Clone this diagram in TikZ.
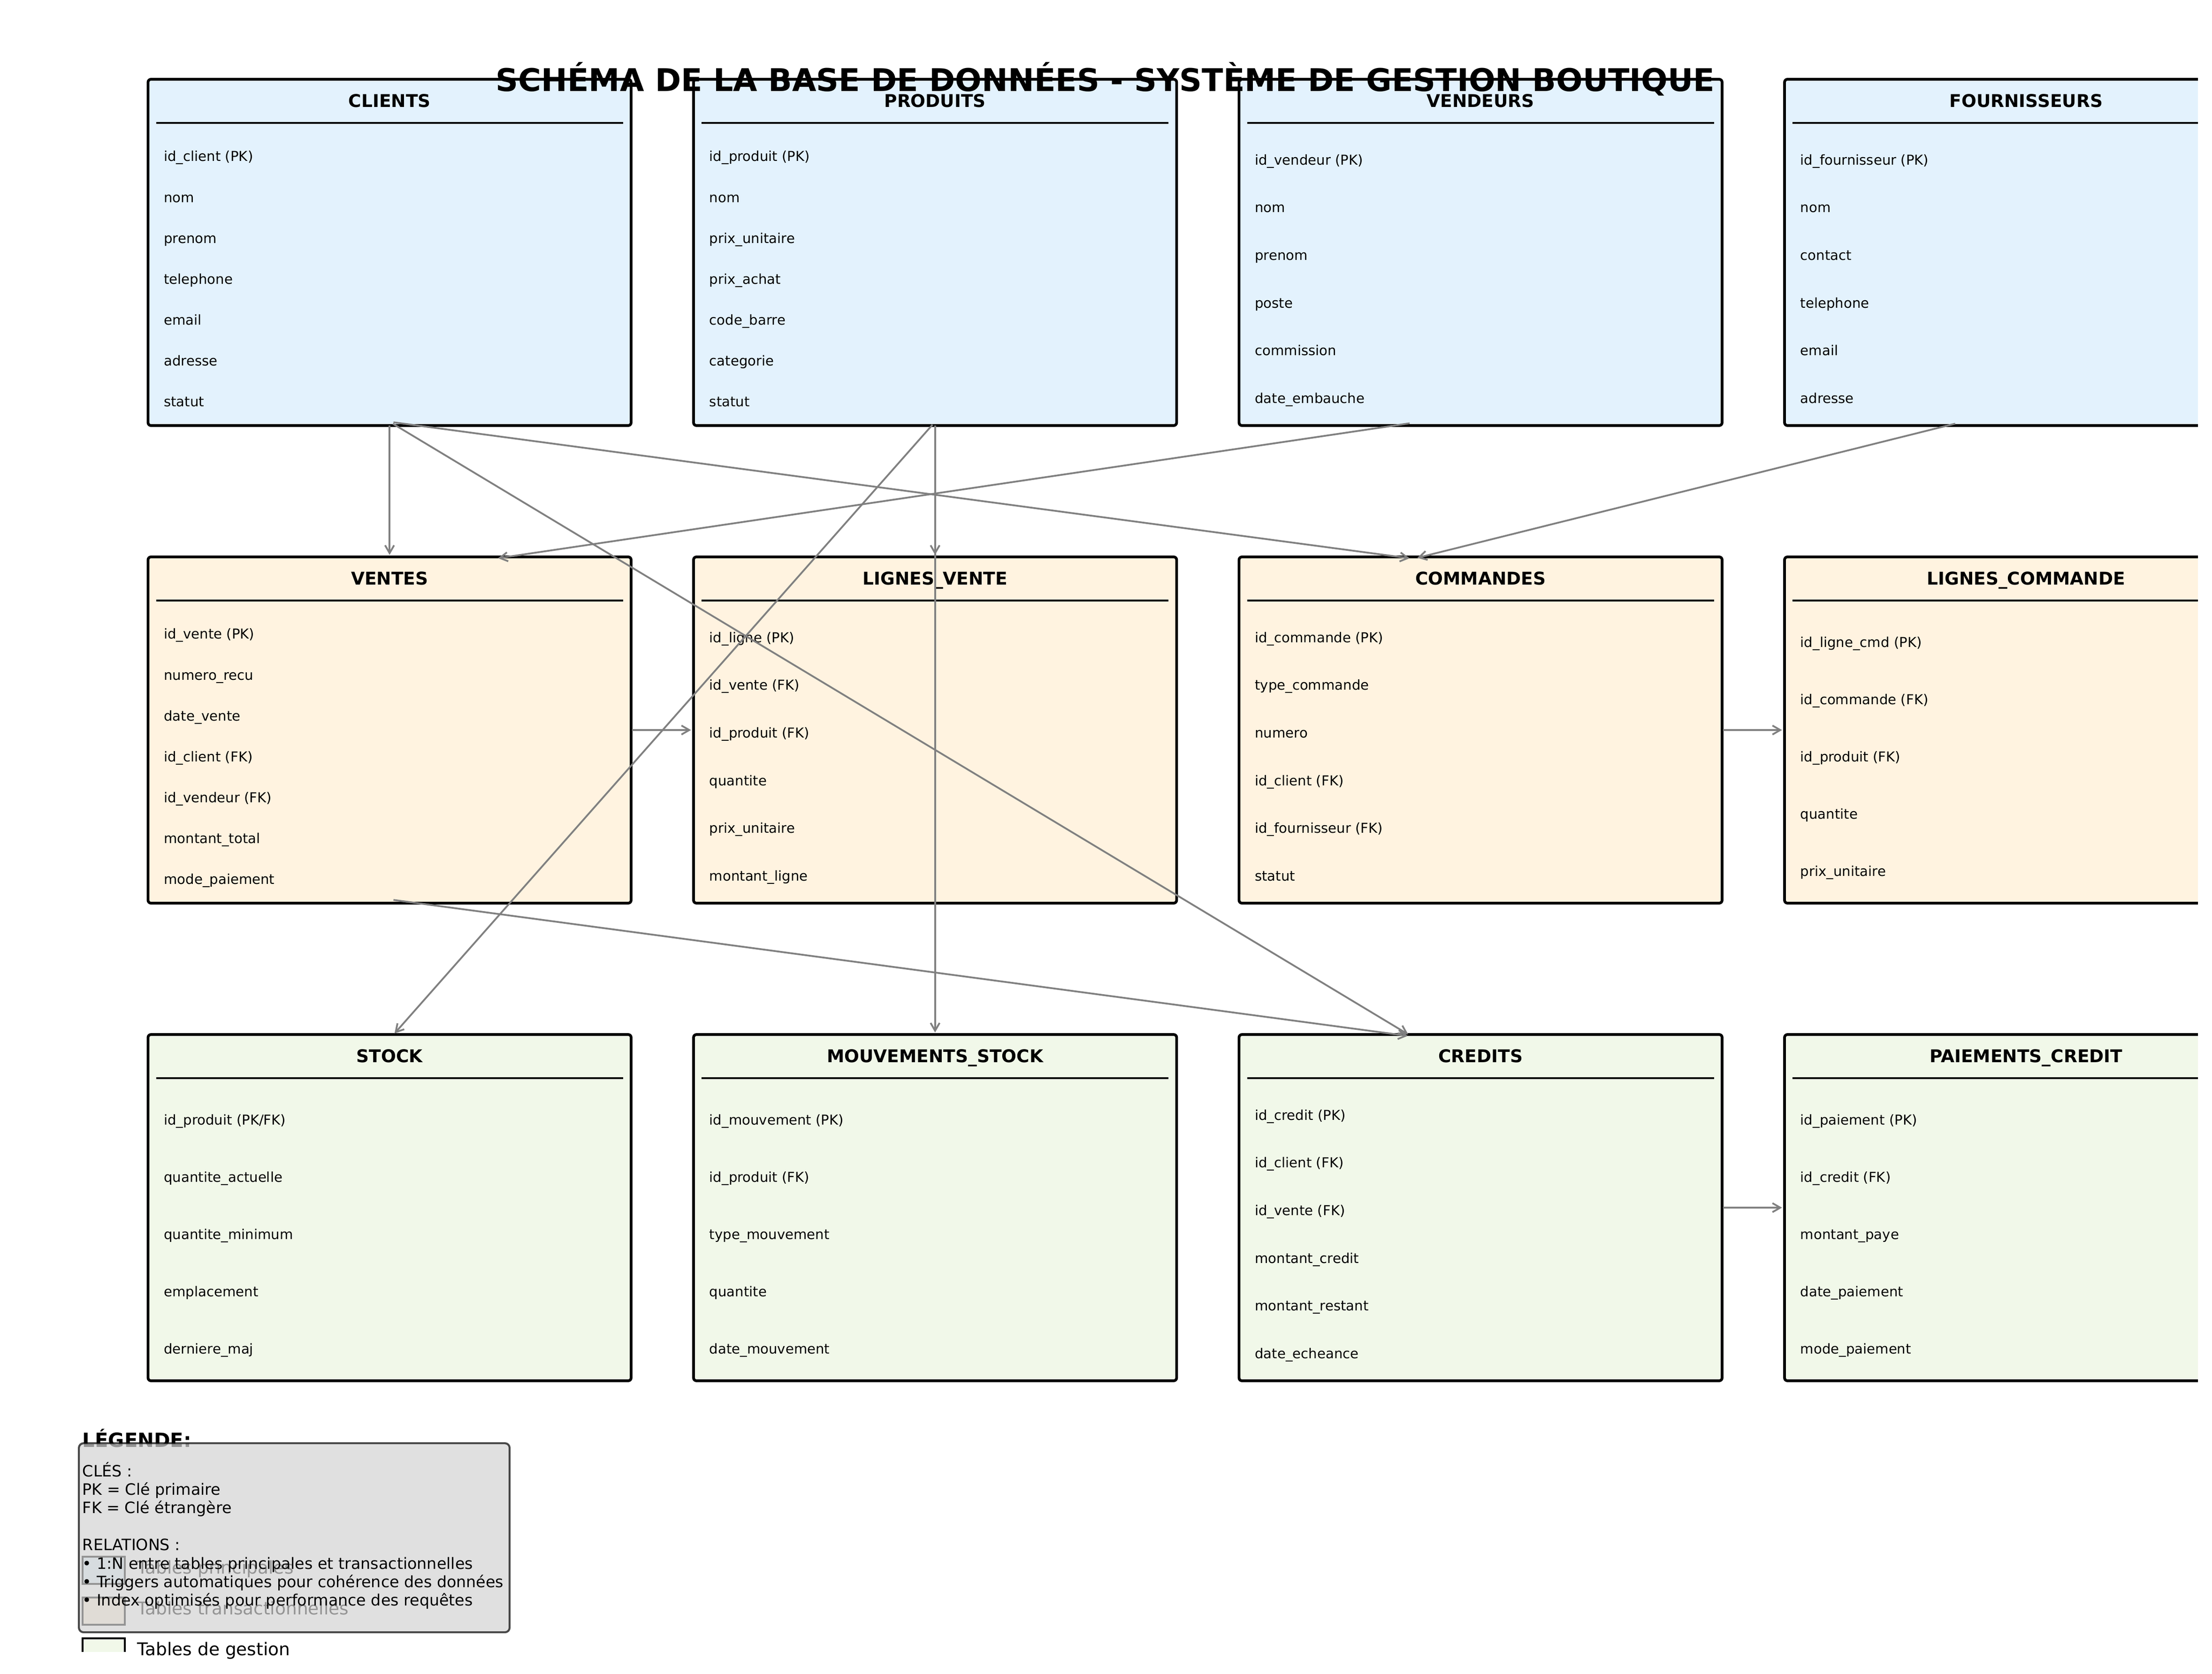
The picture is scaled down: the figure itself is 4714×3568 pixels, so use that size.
\documentclass[tikz,border=0pt]{standalone}
\usepackage{fontspec}
\setmainfont{DejaVu Sans}
\usetikzlibrary{calc,arrows.meta}
\definecolor{rowA}{HTML}{E3F2FD}
\definecolor{rowB}{HTML}{FFF3E0}
\definecolor{rowC}{HTML}{F1F8E9}
\definecolor{lgray}{HTML}{D3D3D3}
\definecolor{agray}{HTML}{808080}
% #1 name, #2 left, #3 top, #4 title, #5 fill, #6 number of fields, #7 fields
\newcommand\dbtable[7]{%
  \node[tbl, fill=#5] (#1) at (#2,#3) {};
  \node[hdr] (#1-t) at ($(#1.north)+(0,50)$) {#4};
  \draw[hline] ($(#1.north west)+(17.2,92.7)$) coordinate (#1-la) -- ($(#1.north east)+(-17.2,92.7)$) coordinate (#1-lb);
  \foreach \f [count=\i] in {#7} {
    \node[fld] (#1-f\i) at ($(#1.north west)+(33,{123.7+(\i-0.5)*610/#6})$) {\f};
  }%
}
\begin{document}
\begin{tikzpicture}[x=0.24pt,y=-0.24pt,
  tbl/.style={draw=black, line width=1.4pt, rounded corners=1.5pt,
    minimum width=247.08pt, minimum height=177.12pt,
    inner sep=0pt, outer sep=0pt, anchor=north west},
  hdr/.style={font=\bfseries\fontsize{9}{11}\selectfont, inner sep=0pt,
    text height=6.84pt, text depth=2.16pt},
  fld/.style={font=\fontsize{7}{8.4}\selectfont, anchor=west, inner sep=0pt,
    text height=5.32pt, text depth=1.68pt},
  hline/.style={line width=1pt},
  conn/.style={draw=agray, line width=0.9pt,
    -{Straight Barb[length=4pt,width=4.6pt]}, shorten <=2pt, shorten >=2pt},
  legpatch/.style={draw=black, line width=1pt, minimum width=21.6pt,
    minimum height=13.92pt, inner sep=0pt, anchor=north west},
  legentry/.style={font=\fontsize{9}{11}\selectfont, anchor=west, inner sep=0pt,
    text height=6.84pt, text depth=2.16pt},
  legline/.style={font=\fontsize{8}{9.6}\selectfont, anchor=base west, inner sep=0pt}
]
\useasboundingbox (0,0) rectangle (4714,3568);

\begin{scope}
\clip (30,30) rectangle (4684,3520);
% ---------- row 1 ----------
\dbtable{clients}{315.5}{169}{CLIENTS}{rowA}{7}{id\_client (PK),nom,prenom,telephone,email,adresse,statut}
\dbtable{produits}{1478}{169}{PRODUITS}{rowA}{7}{id\_produit (PK),nom,prix\_unitaire,prix\_achat,code\_barre,categorie,statut}
\dbtable{vendeurs}{2640.5}{169}{VENDEURS}{rowA}{6}{id\_vendeur (PK),nom,prenom,poste,commission,date\_embauche}
\dbtable{fournisseurs}{3803}{169}{FOURNISSEURS}{rowA}{6}{id\_fournisseur (PK),nom,contact,telephone,email,adresse}
% ---------- row 2 ----------
\dbtable{ventes}{315.5}{1187}{VENTES}{rowB}{7}{id\_vente (PK),numero\_recu,date\_vente,id\_client (FK),id\_vendeur (FK),montant\_total,mode\_paiement}
\dbtable{lignesvente}{1478}{1187}{LIGNES\_VENTE}{rowB}{6}{id\_ligne (PK),id\_vente (FK),id\_produit (FK),quantite,prix\_unitaire,montant\_ligne}
\dbtable{commandes}{2640.5}{1187}{COMMANDES}{rowB}{6}{id\_commande (PK),type\_commande,numero,id\_client (FK),id\_fournisseur (FK),statut}
\dbtable{lignescmd}{3803}{1187}{LIGNES\_COMMANDE}{rowB}{5}{id\_ligne\_cmd (PK),id\_commande (FK),id\_produit (FK),quantite,prix\_unitaire}
% ---------- row 3 ----------
\dbtable{stock}{315.5}{2205}{STOCK}{rowC}{5}{id\_produit (PK/FK),quantite\_actuelle,quantite\_minimum,emplacement,derniere\_maj}
\dbtable{mouvements}{1478}{2205}{MOUVEMENTS\_STOCK}{rowC}{5}{id\_mouvement (PK),id\_produit (FK),type\_mouvement,quantite,date\_mouvement}
\dbtable{credits}{2640.5}{2205}{CREDITS}{rowC}{6}{id\_credit (PK),id\_client (FK),id\_vente (FK),montant\_credit,montant\_restant,date\_echeance}
\dbtable{paiements}{3803}{2205}{PAIEMENTS\_CREDIT}{rowC}{5}{id\_paiement (PK),id\_credit (FK),montant\_paye,date\_paiement,mode\_paiement}

% ---------- connector end points ----------
\coordinate (sC)  at ($(clients.south)+(0,-8)$);
\coordinate (sP)  at ($(produits.south)+(0,-8)$);
\coordinate (sV)  at ($(vendeurs.south)+(-143,-6)$);
\coordinate (sF)  at ($(fournisseurs.south)+(-143,-6)$);
\coordinate (sVe) at ($(ventes.south)+(0,-8)$);
\coordinate (tVeC) at ($(ventes.north)+(0,4)$);
\coordinate (tVeV) at ($(ventes.north)+(223,4)$);
\coordinate (tLV) at ($(lignesvente.north)+(0,4)$);
\coordinate (tCo) at ($(commandes.north)+(-143,4)$);
\coordinate (tSt) at ($(stock.north)+(5,4)$);
\coordinate (tMS) at ($(mouvements.north)+(0,4)$);
\coordinate (tCr) at ($(credits.north)+(-147,4)$);

% ---------- connectors ----------
\draw[conn] (sC) -- (tVeC);
\draw[conn] (sC) -- (tCo);
\draw[conn] (sC) -- (tCr);
\draw[conn] (sP) -- (tLV);
\draw[conn] (sP) -- (tSt);
\draw[conn] (sP) -- (tMS);
\draw[conn] (sV) -- (tVeV);
\draw[conn] (sF) -- (tCo);
\draw[conn] (sVe) -- (tCr);
\draw[conn] ($(ventes.east)+(-6,0)$) -- ($(lignesvente.west)+(3,0)$);
\draw[conn] ($(commandes.east)+(-6,0)$) -- ($(lignescmd.west)+(3,0)$);
\draw[conn] ($(credits.east)+(-6,0)$) -- ($(paiements.west)+(3,0)$);

% ---------- legend patches ----------
\node[legpatch, fill=rowA] (lp1) at (174,3316) {};
\node[legpatch, fill=rowB] (lp2) at (174,3403) {};
\node[legpatch, fill=rowC] (lp3) at (174,3490) {};
\end{scope}

\node[legentry] (le1) at (292,3345) {Tables principales};
\node[legentry] (le2) at (292,3432) {Tables transactionnelles};
\node[legentry] (le3) at (292,3519) {Tables de gestion};

\node[font=\bfseries\fontsize{10}{12}\selectfont, anchor=base west, inner sep=0pt] (legtitle) at (175,3084) {LÉGENDE:};

\node[draw=black, draw opacity=0.7, fill=lgray, fill opacity=0.7, line width=1pt,
  rounded corners=2.4pt, minimum width=220.32pt, minimum height=96.72pt,
  inner sep=0pt, anchor=north west] (legbox) at (166,3074) {};

\node[legline] (lg1) at (175,3147.0) {CLÉS :};
\node[legline] (lg2) at (175,3186.4) {PK = Clé primaire};
\node[legline] (lg3) at (175,3225.8) {FK = Clé étrangère};
\node[legline] (lg5) at (175,3304.6) {RELATIONS :};
\node[legline] (lg6) at (175,3344.0) {• 1:N entre tables principales et transactionnelles};
\node[legline] (lg7) at (175,3383.4) {• Triggers automatiques pour cohérence des données};
\node[legline] (lg8) at (175,3422.8) {• Index optimisés pour performance des requêtes};

% ---------- title ----------
\node[font=\bfseries\fontsize{16}{19}\selectfont, anchor=base, inner sep=0pt] (title) at (2355.5,194.5)
  {SCHÉMA DE LA BASE DE DONNÉES - SYSTÈME DE GESTION BOUTIQUE};
\end{tikzpicture}
\end{document}
